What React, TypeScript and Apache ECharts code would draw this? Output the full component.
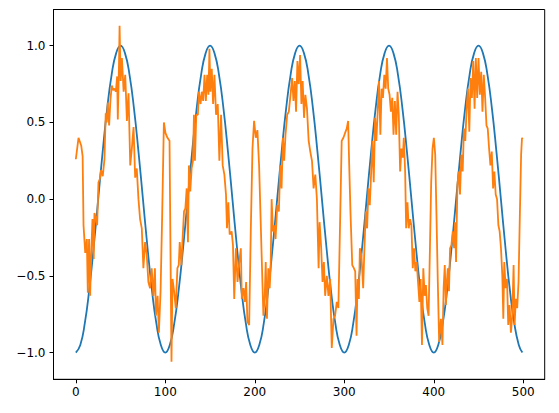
import React, { useEffect, useRef } from "react";
import * as echarts from "echarts";

// Blue series: values read every 5 units along x (0..495), plus the end point at 499
const blueStep = 5;
const blueY = [
  -1, -0.95, -0.81, -0.59, -0.31, 0, 0.31, 0.59, 0.81, 0.95, 1, 0.95, 0.81, 0.59, 0.31, 0, -0.31, -0.59, -0.81, -0.95,
  -1, -0.95, -0.81, -0.59, -0.31, 0, 0.31, 0.59, 0.81, 0.95, 1, 0.95, 0.81, 0.59, 0.31, 0, -0.31, -0.59, -0.81, -0.95,
  -1, -0.95, -0.81, -0.59, -0.31, 0, 0.31, 0.59, 0.81, 0.95, 1, 0.95, 0.81, 0.59, 0.31, 0, -0.31, -0.59, -0.81, -0.95,
  -1, -0.95, -0.81, -0.59, -0.31, 0, 0.31, 0.59, 0.81, 0.95, 1, 0.95, 0.81, 0.59, 0.31, 0, -0.31, -0.59, -0.81, -0.95,
  -1, -0.95, -0.81, -0.59, -0.31, 0, 0.31, 0.59, 0.81, 0.95, 1, 0.95, 0.81, 0.59, 0.31, 0, -0.31, -0.59, -0.81, -0.95,
];
const blueEnd: [number, number] = [499, -1];

// Orange series: points as [x, y]
const orange: [number, number][] = [
  [0, 0.26], [3, 0.4], [6, 0.35], [7.6, 0.28], [8.6, -0.17], [10.5, -0.35], [12.3, -0.26], [13.4, -0.61],
  [14.8, -0.26], [16, -0.63], [17.1, -0.37], [18.6, -0.13], [20, -0.39], [20.8, -0.09], [22.3, -0.12],
  [23.8, -0.17], [25.3, 0.11], [26.8, 0.13], [28.2, 0.19], [30.1, 0.15], [32, 0.26], [33.4, 0.56],
  [34.5, 0.5], [35.7, 0.63], [37.2, 0.48], [38.7, 0.65], [40.2, 0.74], [41.7, 0.71], [43.2, 0.72],
  [44.7, 0.7], [46.2, 0.8], [46.9, 0.52], [48.2, 0.87], [48.9, 1.13], [50.1, 0.77], [51.5, 0.92],
  [53.4, 0.7], [55.2, 0.81], [57.1, 0.51], [58.9, 0.69], [60.8, 0.22], [62.6, 0.33], [64.5, 0.47],
  [66.3, 0.14], [68.1, 0.2], [70, 0.0], [71.8, -0.13], [73.7, -0.19], [75.5, -0.45], [77.4, -0.28],
  [79.2, -0.36], [81.1, -0.54], [82.9, -0.58], [84.8, -0.45], [86.6, -0.63], [88.4, -0.45], [89.5, -0.76],
  [91.4, -0.63], [92.8, -0.87], [94.7, -0.6], [96.5, -0.1], [98.4, 0.5], [100.2, 0.43], [102.4, 0.4],
  [104.7, 0.38], [106.1, -0.54], [106.9, -1.06], [108, -0.52], [109.8, -0.6], [111.7, -0.71], [113.5, -0.45],
  [115, -0.43], [116.1, -0.28], [118, -0.43], [119.1, -0.28], [120.9, -0.08], [122.4, -0.06], [123.9, 0.07],
  [125.3, -0.28], [126.4, 0.22], [127.9, 0.05], [129.4, 0.2], [130.9, 0.25], [132, 0.55], [133.1, 0.25],
  [134.6, 0.55], [136.4, 0.55], [137.5, 0.7], [139.4, 0.62], [140.8, 0.7], [142.3, 0.64], [143.8, 0.81],
  [145.3, 0.64], [146.8, 0.81], [148.2, 0.68], [149.3, 0.98], [150.4, 0.7], [151.9, 0.85], [153.4, 0.62],
  [154.9, 0.81], [156.7, 0.55], [158.6, 0.62], [160.4, 0.25], [162.3, 0.55], [164.1, 0.22], [166, 0.16],
  [167.8, 0.03], [168.9, -0.19], [170.4, -0.02], [171.9, -0.23], [174.1, -0.21], [175.6, -0.3], [177, -0.65],
  [178.9, -0.32], [180.7, -0.54], [182.6, -0.41], [184.4, -0.32], [185.5, -0.65], [187.4, -0.58],
  [188.9, -0.67], [190.3, -0.54], [191.8, -0.8], [193.7, -0.82], [195.5, -0.21], [197.4, 0.33], [199.2, 0.51],
  [201.1, 0.4], [202.9, 0.45], [204.8, 0.22], [206.6, -0.15], [208.5, -0.54], [209.6, -0.76], [211.1, -0.63],
  [212.2, -0.41], [213.6, -0.78], [215.1, -0.45], [216.6, -0.58], [217.7, -0.45], [218.8, 0.0], [220.3, -0.21],
  [221.8, -0.17], [223.2, -0.26], [225.1, -0.04], [226.9, -0.08], [228.4, 0.22], [229.9, 0.07], [231.4, 0.4],
  [232.8, 0.25], [234.3, 0.42], [236.2, 0.55], [238, 0.57], [239.9, 0.68], [241.7, 0.79], [243.2, 0.64],
  [244.7, 0.77], [246.1, 0.57], [247.6, 0.9], [249.1, 0.75], [250.6, 0.94], [252.1, 0.62], [253.5, 0.77],
  [255, 0.53], [256.5, 0.68], [258.3, 0.59], [260.2, 0.38], [262, 0.31], [263.9, 0.25], [265.7, 0.07],
  [267.6, 0.16], [269.4, 0.0], [271.3, -0.45], [272.4, -0.15], [274.2, -0.32], [275.7, -0.54], [277.2, -0.41],
  [278.6, -0.63], [280.5, -0.5], [282.3, -0.63], [284.2, -0.52], [286, -0.97], [287.9, -0.78], [289.7, -0.76],
  [291.6, -0.67], [293.4, -0.71], [295.3, -0.15], [297.1, 0.38], [299, 0.4], [300.8, 0.43], [302.7, 0.46],
  [304.3, 0.51], [305.5, 0.22], [307, -0.1], [308.9, -0.43], [310.7, -0.45], [312.2, -0.47], [313.7, -0.89],
  [314.8, -0.52], [316.3, -0.65], [317.4, -0.32], [319.2, -0.37], [321.1, -0.58], [322.5, -0.32], [324, -0.08],
  [325.5, -0.19], [327, 0.07], [328.5, -0.04], [329.9, 0.16], [331.4, 0.38], [332.9, 0.11], [334.4, 0.53],
  [335.8, 0.38], [337.3, 0.57], [338.8, 0.77], [340.3, 0.42], [341.7, 0.72], [343.2, 0.66], [344.7, 0.81],
  [346.2, 0.72], [347.7, 0.92], [349.1, 0.72], [350.6, 0.68], [352.1, 0.57], [353.6, 0.66], [355, 0.42],
  [356.5, 0.64], [358, 0.42], [359.5, 0.7], [360.9, 0.55], [362.4, 0.18], [363.9, 0.33], [365.4, 0.27],
  [366.5, 0.4], [368, 0.18], [369.1, -0.19], [370.6, -0.02], [372, -0.19], [373.5, -0.13], [375, -0.17],
  [376.5, -0.45], [377.9, -0.32], [379.4, -0.47], [380.9, -0.41], [382.4, -0.54], [383.9, -0.67], [385.3, -0.52],
  [386.8, -0.95], [388.3, -0.45], [389.8, -0.63], [391.2, -0.56], [392.7, -0.71], [394.2, -0.76], [395.7, -0.32],
  [397.1, 0.11], [398.6, 0.33], [400.1, 0.4], [401.6, 0.29], [403, -0.1], [404.5, -0.54], [406, -0.93],
  [408, -0.78], [409.7, -0.95], [411, -0.58], [412.3, -0.43], [413.5, -0.69], [414.5, -0.55], [415.7, -0.45],
  [417, -0.6], [418.2, -0.32], [419.7, -0.3], [421.2, -0.21], [422.7, -0.32], [423.8, -0.15], [424.9, -0.41],
  [426.4, 0.09], [427.8, 0.18], [429.3, 0.03], [430.8, 0.29], [432.3, 0.18], [433.7, 0.46], [435.2, 0.38],
  [436.7, 0.59], [438.2, 0.72], [439.7, 0.44], [441.1, 0.79], [442.6, 0.66], [444.1, 0.9], [445.6, 0.59],
  [447, 0.92], [448.5, 0.66], [450, 0.92], [451.5, 0.68], [453, 0.83], [454.4, 0.57], [455.9, 0.81],
  [457.4, 0.66], [458.9, 0.48], [460.3, 0.46], [461.8, 0.33], [463.3, 0.22], [464.8, 0.31], [466.3, 0.07],
  [467.7, 0.18], [469.2, 0.03], [470.7, 0.0], [472.2, -0.17], [473.6, -0.21], [475.1, -0.32], [476.6, -0.5],
  [477.7, -0.78], [478.8, -0.41], [480.3, -0.58], [481.8, -0.52], [483.2, -0.82], [484.7, -0.69], [486.2, -0.87],
  [487.7, -0.76], [489.2, -0.43], [490.3, -0.82], [491.7, -0.65], [493.2, -0.71], [494.7, -0.54], [496.2, -0.1],
  [497.6, 0.29], [498.6, 0.4], [499, 0.39],
];

const xTicks = [0, 100, 200, 300, 400, 500];
const yTicks = [-1.0, -0.5, 0.0, 0.5, 1.0];

export default function App() {
  const ref = useRef<HTMLDivElement>(null);
  useEffect(() => {
    if (!ref.current) return;
    const chart = echarts.init(ref.current, null, { renderer: "svg" });
    const blueData: [number, number][] = blueY.map((v, i) => [i * blueStep, v]);
    blueData.push(blueEnd);
    const font = { fontFamily: "DejaVu Sans", fontSize: 12, color: "#000" };
    chart.setOption({
      animation: false,
      backgroundColor: "#fff",
      grid: {
        left: 53.5,
        right: 14.3,
        top: 9.5,
        bottom: 33.7,
        show: true,
        borderColor: "#000",
        borderWidth: 1,
        containLabel: false,
      },
      xAxis: {
        type: "value",
        min: -24.95,
        max: 523.95,
        splitLine: { show: false },
        axisLine: { show: true, onZero: false, lineStyle: { color: "#000", width: 1 } },
        axisTick: { show: true, customValues: xTicks, length: 4, lineStyle: { color: "#000", width: 1 } },
        axisLabel: { customValues: xTicks, margin: 7, ...font, formatter: (v: number) => String(v) },
      },
      yAxis: {
        type: "value",
        min: -1.174,
        max: 1.236,
        splitLine: { show: false },
        axisLine: { show: true, onZero: false, lineStyle: { color: "#000", width: 1 } },
        axisTick: { show: true, customValues: yTicks, length: 4, lineStyle: { color: "#000", width: 1 } },
        axisLabel: {
          customValues: yTicks,
          margin: 8,
          ...font,
          formatter: (v: number) => v.toFixed(1).replace("-", "\u2212"),
        },
      },
      series: [
        {
          type: "line",
          data: blueData,
          smooth: 0.5,
          showSymbol: false,
          lineStyle: { color: "#1f77b4", width: 1.8 },
          itemStyle: { color: "#1f77b4" },
        },
        {
          type: "line",
          data: orange,
          showSymbol: false,
          lineStyle: { color: "#ff7f0e", width: 1.8 },
          itemStyle: { color: "#ff7f0e" },
        },
      ],
    });
    return () => chart.dispose();
  }, []);
  return (
    <div
      ref={ref}
      style={{ position: "fixed", left: 0, top: 0, width: 559, height: 413, background: "#fff" }}
    />
  );
}
